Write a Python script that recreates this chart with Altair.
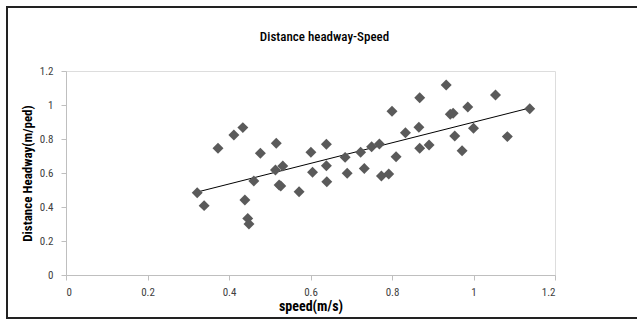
import altair as alt
import pandas as pd

speed = [0.322, 0.339, 0.373, 0.412, 0.434, 0.439, 0.446, 0.449, 0.461, 0.477,
         0.516, 0.514, 0.523, 0.527, 0.532, 0.572, 0.601, 0.605, 0.639, 0.639,
         0.640, 0.685, 0.690, 0.723, 0.732, 0.750, 0.769, 0.774, 0.792, 0.800,
         0.810, 0.833, 0.866, 0.868, 0.868, 0.891, 0.933, 0.943, 0.950, 0.954,
         0.972, 0.986, 1.000, 1.054, 1.083, 1.138]
headway = [0.484, 0.408, 0.745, 0.824, 0.867, 0.441, 0.333, 0.300, 0.553, 0.716,
           0.775, 0.618, 0.529, 0.524, 0.641, 0.490, 0.722, 0.604, 0.769, 0.643,
           0.549, 0.692, 0.598, 0.722, 0.627, 0.755, 0.771, 0.582, 0.594, 0.963,
           0.696, 0.837, 0.869, 1.043, 0.745, 0.765, 1.118, 0.945, 0.951, 0.818,
           0.731, 0.988, 0.863, 1.059, 0.814, 0.978]

df = pd.DataFrame({"speed": speed, "headway": headway})

FONT = "Liberation Sans Narrow, Roboto Condensed, Open Sans, sans-serif"

xenc = alt.X("speed:Q", title="speed(m/s)",
             scale=alt.Scale(domain=[0, 1.2], nice=False, zero=False),
             axis=alt.Axis(values=[0, 0.2, 0.4, 0.6, 0.8, 1, 1.2], grid=False,
                           format="~g", domainColor="#bfbfbf", tickColor="#bfbfbf",
                           tickSize=5, labelPadding=6, labelFontSize=11,
                           labelColor="#404040", labelFont=FONT,
                           titleFont=FONT, titleFontSize=14, titleFontWeight="bold",
                           titleColor="#000000", titlePadding=2))
yenc = alt.Y("headway:Q", title="Distance Headway(m/ped)",
             scale=alt.Scale(domain=[0, 1.2], nice=False, zero=False),
             axis=alt.Axis(values=[0, 0.2, 0.4, 0.6, 0.8, 1, 1.2], grid=False,
                           format="~g", domainColor="#bfbfbf", tickColor="#bfbfbf",
                           tickSize=5, labelPadding=8, labelFontSize=11,
                           labelColor="#404040", labelFont=FONT,
                           titleFont=FONT, titleFontSize=13, titleFontWeight="bold",
                           titleColor="#000000", titlePadding=5))

base = alt.Chart(df)

points = base.mark_point(shape="diamond", filled=True, size=120,
                         color="#5a5a5a", opacity=1).encode(x=xenc, y=yenc)

trend = base.transform_regression("speed", "headway").mark_line(
    color="#000000", strokeWidth=1).encode(x=xenc, y=yenc)

border = alt.Chart(pd.DataFrame({"a": [0]})).mark_rect(
    fill=None, stroke="#222222", strokeWidth=2, clip=False
).encode(x=alt.value(-59), x2=alt.value(620), y=alt.value(-64), y2=alt.value(247))

chart = alt.layer(border, trend, points).properties(
    width=489, height=204,
    title=alt.TitleParams("Distance headway-Speed", font=FONT, fontSize=13,
                          fontWeight=500, color="#000000", anchor="middle",
                          dx=14, offset=-38),
    autosize=alt.AutoSizeParams(type="none"),
    padding={"left": 66, "top": 71, "right": 82, "bottom": 45},
).configure_view(stroke=None).configure(background="white")

chart.save("out.html", embed_options={"renderer": "svg", "actions": False})
